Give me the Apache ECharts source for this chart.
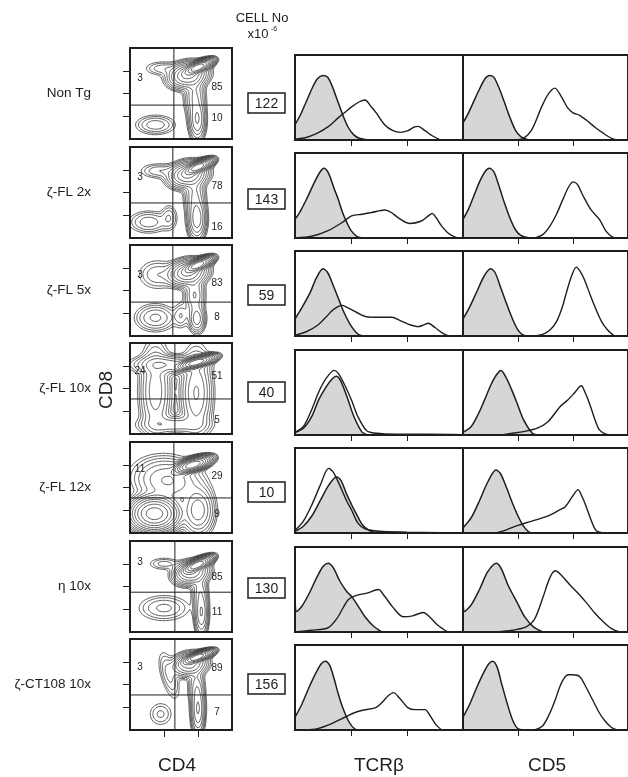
<!DOCTYPE html>
<html>
<head>
<meta charset="utf-8">
<script src="https://cdn.jsdelivr.net/npm/echarts@6/dist/echarts.min.js"></script>
<style>
  html, body {margin: 0; padding: 0; background: #fff;}
  #chart {width: 628px; height: 777px;}
</style>
</head>
<body>
<div id="chart"></div>
<script>
// ---- data ----
const rowNames = ['Non Tg', 'ζ-FL 2x', 'ζ-FL 5x', 'ζ-FL 10x', 'ζ-FL 12x', 'η 10x', 'ζ-CT108 10x'];
const cellNo = [122, 143, 59, 40, 10, 130, 156];
const quadTL = [3, 3, 3, 24, 11, 3, 3];      // CD8 single positive %
const quadTR = [85, 78, 83, 51, 29, 85, 89]; // double positive %
const quadBR = [10, 16, 8, 5, 9, 11, 7];     // CD4 single positive %
const gateCD4 = [1.29, 1.26, 1.26, 1.32, 1.29, 1.32, 1.32];
const gateCD8 = [1.49, 1.54, 1.49, 1.54, 1.54, 1.75, 1.54];

// contour populations: [cd4 centre, cd8 centre, spread x, spread y, angle, weight]
const popsNonTg = [[2.0, 3.15, 0.21, 0.09, 38, 1.0], [1.7, 2.8, 0.28, 0.24, 45, 0.15], [1.98, 0.85, 0.12, 0.45, 0, 0.05], [1.9, 1.9, 0.15, 0.5, 0, 0.03], [0.75, 0.62, 0.3, 0.22, 0, 0.015], [0.95, 3.1, 0.28, 0.17, 0, 0.009]];
const popsFL2 = [[2.0, 3.12, 0.21, 0.09, 38, 1.0], [1.7, 2.78, 0.28, 0.24, 45, 0.15], [1.97, 0.85, 0.13, 0.45, 0, 0.07], [1.9, 1.9, 0.15, 0.5, 0, 0.03], [0.55, 0.7, 0.3, 0.25, 0, 0.015], [1.15, 0.9, 0.13, 0.3, 0, 0.01], [0.85, 2.95, 0.3, 0.18, 0, 0.01]];
const popsFL5 = [[2.0, 3.12, 0.21, 0.09, 38, 1.0], [1.7, 2.78, 0.28, 0.24, 45, 0.15], [1.97, 0.75, 0.12, 0.3, 0, 0.04], [1.9, 1.8, 0.15, 0.45, 0, 0.03], [0.75, 0.8, 0.3, 0.3, 0, 0.02], [1.5, 0.9, 0.12, 0.3, 0, 0.01], [0.8, 2.7, 0.3, 0.35, 0, 0.01]];
const popsFL10 = [[1.95, 3.15, 0.24, 0.09, 25, 1.0], [0.75, 1.9, 0.22, 1.0, 0, 0.04], [1.95, 1.8, 0.22, 0.9, 0, 0.05], [1.3, 0.4, 0.5, 0.2, 0, 0.025], [1.1, 3.05, 0.5, 0.2, 0, 0.04]];
const popsFL12 = [[1.85, 3.0, 0.24, 0.11, 30, 0.6], [0.72, 0.85, 0.3, 0.32, 0, 0.5], [2.0, 1.0, 0.22, 0.5, 0, 0.04], [1.1, 2.3, 0.45, 0.5, 40, 0.03]];
const popsEta10 = [[1.98, 2.95, 0.22, 0.09, 40, 1.0], [1.8, 2.6, 0.26, 0.22, 45, 0.12], [2.1, 0.85, 0.1, 0.5, 0, 0.05], [2.05, 1.8, 0.12, 0.4, 0, 0.02], [1.0, 1.05, 0.4, 0.3, 0, 0.012], [1.0, 3.0, 0.25, 0.15, 0, 0.008]];
const popsCT108 = [[1.98, 3.2, 0.21, 0.08, 32, 1.0], [1.75, 2.88, 0.26, 0.22, 45, 0.1], [2.0, 0.9, 0.1, 0.55, 0, 0.05], [1.95, 1.9, 0.12, 0.45, 0, 0.02], [1.15, 2.4, 0.13, 0.55, 10, 0.012], [0.9, 0.7, 0.2, 0.3, 0, 0.007]];

// histograms: [log fluorescence, relative count]; ctrl = shaded
const tcrCtrl1 = [[0,18],[0.1,30],[0.2,45],[0.3,60],[0.4,72],[0.5,76],[0.58,74],[0.66,64],[0.75,48],[0.85,30],[0.95,15],[1.05,6],[1.15,2],[1.3,0]];
const tcr1 = [[0,1],[0.2,3],[0.4,8],[0.6,16],[0.77,26],[0.9,33],[1.01,39],[1.15,45],[1.25,47],[1.35,40],[1.45,32],[1.6,18],[1.75,11],[1.88,9],[2.02,11],[2.12,15],[2.2,16],[2.32,11],[2.45,5],[2.6,0]];
const cd5Ctrl1 = [[0,20],[0.1,32],[0.2,46],[0.3,60],[0.4,72],[0.48,76],[0.56,74],[0.65,62],[0.75,45],[0.85,27],[0.95,12],[1.05,4],[1.2,0]];
const cd5_1 = [[0.95,0],[1.1,2],[1.25,12],[1.43,39],[1.55,54],[1.67,61],[1.78,52],[1.9,38],[2.0,32],[2.12,29],[2.25,23],[2.4,15],[2.55,8],[2.7,2],[2.8,0]];

const tcrCtrl2 = [[0,22],[0.1,32],[0.23,49],[0.35,66],[0.45,78],[0.52,82],[0.6,76],[0.7,58],[0.77,46],[0.85,30],[0.92,19],[1.0,9],[1.1,2],[1.2,0]];
const tcr2 = [[0,0],[0.3,2],[0.6,9],[0.86,19],[1.01,26],[1.2,28],[1.37,30],[1.6,33],[1.72,30],[1.84,24],[2.05,17],[2.26,20],[2.38,26],[2.45,29],[2.52,24],[2.62,14],[2.75,5],[2.9,0]];
const cd5Ctrl2 = [[0,22],[0.1,34],[0.2,50],[0.3,66],[0.4,78],[0.48,82],[0.56,78],[0.65,62],[0.75,42],[0.85,24],[0.95,10],[1.05,3],[1.2,0]];
const cd5_2 = [[1.3,0],[1.45,4],[1.58,14],[1.7,28],[1.82,46],[1.92,60],[2.0,66],[2.08,63],[2.18,50],[2.33,33],[2.48,22],[2.6,8],[2.72,1],[2.8,0]];

const tcrCtrl3 = [[0,20],[0.12,33],[0.27,51],[0.38,68],[0.5,79],[0.58,75],[0.68,60],[0.77,45],[0.88,27],[1.01,11],[1.13,2],[1.25,0]];
const tcr3 = [[0,1],[0.2,5],[0.41,13],[0.55,22],[0.65,29],[0.75,34],[0.84,36],[0.92,34],[1.01,31],[1.25,23],[1.4,22],[1.55,22],[1.73,22],[1.88,18],[2.02,14],[2.2,11],[2.3,13],[2.38,15],[2.5,10],[2.62,4],[2.74,0]];
const cd5Ctrl3 = [[0,20],[0.12,34],[0.25,52],[0.38,70],[0.5,79],[0.58,75],[0.68,58],[0.78,40],[0.9,20],[1.0,7],[1.1,1],[1.2,0]];
const cd5_3 = [[1.3,0],[1.45,2],[1.58,7],[1.7,17],[1.8,33],[1.88,51],[1.96,68],[2.06,81],[2.13,76],[2.21,66],[2.32,47],[2.42,31],[2.52,17],[2.63,7],[2.75,0]];

const tcrCtrl4 = [[0,3],[0.15,8],[0.3,22],[0.42,41],[0.55,56],[0.65,65],[0.74,69],[0.82,63],[0.95,41],[1.05,22],[1.19,4],[1.3,0]];
const tcr4 = [[0,3],[0.15,10],[0.3,30],[0.42,50],[0.55,66],[0.7,76],[0.78,72],[0.9,57],[1.01,41],[1.12,22],[1.28,5],[1.45,2],[1.8,1],[2.4,1],[3,0.5]];
const cd5Ctrl4 = [[0,3],[0.15,10],[0.28,25],[0.39,41],[0.5,58],[0.6,70],[0.69,76],[0.78,68],[0.88,54],[0.98,38],[1.1,18],[1.26,2],[1.35,0]];
const cd5_4 = [[0.7,0],[0.9,2],[1.1,4],[1.35,8],[1.55,16],[1.76,33],[1.9,41],[2.02,49],[2.15,58],[2.22,50],[2.3,37],[2.4,18],[2.48,6],[2.6,1],[2.7,0]];

const tcrCtrl5 = [[0,2],[0.15,8],[0.3,20],[0.45,38],[0.6,56],[0.74,66],[0.82,62],[0.92,46],[1.02,32],[1.1,22],[1.2,10],[1.32,3],[1.45,0]];
const tcr5 = [[0,3],[0.15,14],[0.3,33],[0.45,56],[0.6,76],[0.68,72],[0.8,56],[0.92,38],[1.01,27],[1.12,12],[1.25,5],[1.5,2],[2.0,1],[2.6,0.5],[3,0]];
const cd5Ctrl5 = [[0,6],[0.15,18],[0.3,38],[0.45,60],[0.6,74],[0.68,70],[0.8,52],[0.9,35],[1.0,20],[1.1,8],[1.2,1],[1.3,0]];
const cd5_5 = [[0.6,0],[0.8,4],[1.0,9],[1.2,13],[1.4,17],[1.58,21],[1.75,27],[1.86,31],[2.0,44],[2.09,51],[2.17,42],[2.24,31],[2.33,15],[2.42,3],[2.55,0]];

const tcrCtrl6 = [[0,60],[0.03,24],[0.12,30],[0.25,45],[0.38,63],[0.5,77],[0.59,81],[0.68,76],[0.8,60],[0.92,48],[1.02,41],[1.15,28],[1.25,18],[1.4,7],[1.55,0]];
const tcr6 = [[0,0],[0.3,2],[0.59,5],[0.75,16],[0.95,38],[1.1,43],[1.3,46],[1.49,50],[1.6,42],[1.75,29],[1.93,18],[2.1,19],[2.29,23],[2.4,18],[2.55,8],[2.73,0]];
const cd5Ctrl6 = [[0,60],[0.03,24],[0.15,32],[0.3,50],[0.45,71],[0.61,81],[0.7,74],[0.82,55],[0.99,34],[1.12,18],[1.28,6],[1.45,0]];
const cd5_6 = [[0.6,0],[0.9,2],[1.15,6],[1.3,15],[1.45,40],[1.58,64],[1.68,72],[1.8,66],[1.95,55],[2.1,45],[2.25,34],[2.4,22],[2.55,12],[2.7,4],[2.85,0]];

const tcrCtrl7 = [[0,15],[0.12,30],[0.25,50],[0.38,68],[0.47,78],[0.54,81],[0.62,76],[0.7,60],[0.77,43],[0.86,25],[0.96,10],[1.07,1],[1.15,0]];
const tcr7 = [[0,0],[0.36,1],[0.6,6],[0.89,15],[1.05,20],[1.19,23],[1.43,26],[1.55,32],[1.66,40],[1.76,44],[1.86,38],[2.02,26],[2.15,24],[2.32,24],[2.42,16],[2.52,6],[2.62,0]];
const cd5Ctrl7 = [[0,15],[0.12,30],[0.25,50],[0.38,68],[0.47,78],[0.54,81],[0.62,74],[0.7,55],[0.8,32],[0.9,12],[0.99,2],[1.1,0]];
const cd5_7 = [[1.3,0],[1.45,5],[1.58,20],[1.68,36],[1.76,51],[1.84,61],[1.91,65],[2.0,65],[2.12,63],[2.24,50],[2.36,35],[2.48,20],[2.59,10],[2.7,3],[2.8,0]];

const rowPops = [popsNonTg, popsFL2, popsFL5, popsFL10, popsFL12, popsEta10, popsCT108];
const tcrCtrl = [tcrCtrl1, tcrCtrl2, tcrCtrl3, tcrCtrl4, tcrCtrl5, tcrCtrl6, tcrCtrl7];
const tcr = [tcr1, tcr2, tcr3, tcr4, tcr5, tcr6, tcr7];
const cd5Ctrl = [cd5Ctrl1, cd5Ctrl2, cd5Ctrl3, cd5Ctrl4, cd5Ctrl5, cd5Ctrl6, cd5Ctrl7];
const cd5 = [cd5_1, cd5_2, cd5_3, cd5_4, cd5_5, cd5_6, cd5_7];

// ---- layout ----
const contourTop = [48, 147, 245, 343, 442, 541, 639];
const contourL = 130, contourW = 102, contourH = 91;
const histBottom = [140, 238, 336, 435, 533, 632, 730];
const histH = 85, tcrL = 295, cd5L = 463, tcrW = 168, cd5W = 171;
const cellBoxY = [103, 199, 295, 392, 492, 588, 684];
const tlY = [30, 30, 30, 28, 27, 21, 28];
const trY = [39, 39, 38, 33, 34, 36, 29];
const brY = [70, 80, 72, 77, 72, 71, 73];
const FONT = '"Liberation Sans", Arial, Helvetica, sans-serif';
const INK = '#1e1e1e';

function density(pops, x, y) {
  let s = 0;
  pops.forEach(p => {
    const a = p[4] * Math.PI / 180;
    const dx = x - p[0], dy = y - p[1];
    const u = dx * Math.cos(a) + dy * Math.sin(a);
    const v = -dx * Math.sin(a) + dy * Math.cos(a);
    s += p[5] * Math.exp(-0.5 * (u * u / (p[2] * p[2]) + v * v / (p[3] * p[3])));
  });
  return s;
}

// marching squares over the density -> contour segments in data units
function contourSegments(pops) {
  const nx = 75, ny = 92, xMax = 3, yMax = 4;
  const f = [];
  let max = 0;
  for (let j = 0; j <= ny; j++) {
    const row = [];
    for (let i = 0; i <= nx; i++) {
      const v = density(pops, i * xMax / nx, j * yMax / ny);
      row.push(v);
      if (v > max) max = v;
    }
    f.push(row);
  }
  const segs = [];
  for (let k = 1; k <= 12; k++) {
    const L = max * Math.pow(0.6, k);
    for (let j = 0; j < ny; j++) {
      for (let i = 0; i < nx; i++) {
        const a = f[j][i], b = f[j][i + 1], c = f[j + 1][i + 1], d = f[j + 1][i];
        const x0 = i * xMax / nx, x1 = (i + 1) * xMax / nx;
        const y0 = j * yMax / ny, y1 = (j + 1) * yMax / ny;
        const p = [];
        if ((a - L) * (b - L) < 0) p.push([x0 + (L - a) / (b - a) * (x1 - x0), y0]);
        if ((b - L) * (c - L) < 0) p.push([x1, y0 + (L - b) / (c - b) * (y1 - y0)]);
        if ((c - L) * (d - L) < 0) p.push([x1 + (L - c) / (d - c) * (x0 - x1), y1]);
        if ((d - L) * (a - L) < 0) p.push([x0, y1 + (L - d) / (a - d) * (y0 - y1)]);
        if (p.length >= 2) segs.push({coords: [p[0], p[1]]});
        if (p.length === 4) segs.push({coords: [p[2], p[3]]});
      }
    }
  }
  return segs;
}

const grids = [], xAxes = [], yAxes = [], series = [], graphics = [];
const gridBase = {show: true, borderColor: INK, borderWidth: 2, backgroundColor: 'transparent', z: 5};
const hidden = {show: false};

for (let r = 0; r < 7; r++) {
  const gi = grids.length;
  // contour plot
  grids.push(Object.assign({left: contourL, top: contourTop[r], width: contourW, height: contourH}, gridBase));
  xAxes.push({
    gridIndex: gi, type: 'value', min: 0, max: 3,
    axisLine: hidden, splitLine: hidden, axisLabel: hidden,
    axisTick: {show: r === 6, customValues: [1, 2], length: 7, lineStyle: {color: INK, width: 1}}
  });
  yAxes.push({
    gridIndex: gi, type: 'value', min: 0, max: 4,
    axisLine: hidden, splitLine: hidden, axisLabel: hidden,
    axisTick: {show: true, customValues: [1, 2, 3], length: 7, lineStyle: {color: INK, width: 1}}
  });
  series.push({
    type: 'lines', coordinateSystem: 'cartesian2d', xAxisIndex: gi, yAxisIndex: gi,
    data: contourSegments(rowPops[r]), large: true, largeThreshold: 500, silent: true,
    lineStyle: {color: '#333', width: 0.8, opacity: 1}
  });
  series.push({
    type: 'line', xAxisIndex: gi, yAxisIndex: gi, silent: true, symbol: 'none',
    data: [[gateCD4[r], 0], [gateCD4[r], 4]], lineStyle: {color: INK, width: 1}
  });
  series.push({
    type: 'line', xAxisIndex: gi, yAxisIndex: gi, silent: true, symbol: 'none',
    data: [[0, gateCD8[r]], [3, gateCD8[r]]], lineStyle: {color: INK, width: 1}
  });

  // histograms
  [[tcrL, tcrW, tcrCtrl[r], tcr[r]], [cd5L, cd5W, cd5Ctrl[r], cd5[r]]].forEach(([left, w, ctrl, stain]) => {
    const hi = grids.length;
    grids.push(Object.assign({left: left, top: histBottom[r] - histH, width: w, height: histH}, gridBase));
    xAxes.push({
      gridIndex: hi, type: 'value', min: 0, max: 3,
      axisLine: hidden, splitLine: hidden, axisLabel: hidden,
      axisTick: {show: true, customValues: [1, 2], length: 6, lineStyle: {color: INK, width: 1}}
    });
    yAxes.push({
      gridIndex: hi, type: 'value', min: 0, max: 100,
      axisLine: hidden, splitLine: hidden, axisLabel: hidden, axisTick: hidden
    });
    series.push({
      type: 'line', xAxisIndex: hi, yAxisIndex: hi, silent: true, symbol: 'none',
      smooth: 0.3, data: ctrl, z: 2,
      lineStyle: {color: INK, width: 1.5}, areaStyle: {color: '#d6d6d6', opacity: 1}
    });
    series.push({
      type: 'line', xAxisIndex: hi, yAxisIndex: hi, silent: true, symbol: 'none',
      smooth: 0.3, data: stain, z: 3,
      lineStyle: {color: INK, width: 1.4}
    });
  });

  // texts
  const top = contourTop[r];
  graphics.push({type: 'text', x: 91, y: top + contourH / 2,
    style: {text: rowNames[r], font: '13.5px ' + FONT, fill: INK, textAlign: 'right', textVerticalAlign: 'middle', align: 'right', verticalAlign: 'middle'}});
  graphics.push({type: 'text', x: 140, y: top + tlY[r],
    style: {text: String(quadTL[r]), font: '10px ' + FONT, fill: INK, textAlign: 'center', textVerticalAlign: 'middle', align: 'center', verticalAlign: 'middle'}, z: 20});
  graphics.push({type: 'text', x: 217, y: top + trY[r],
    style: {text: String(quadTR[r]), font: '10px ' + FONT, fill: INK, textAlign: 'center', textVerticalAlign: 'middle', align: 'center', verticalAlign: 'middle'}, z: 20});
  graphics.push({type: 'text', x: 217, y: top + brY[r],
    style: {text: String(quadBR[r]), font: '10px ' + FONT, fill: INK, textAlign: 'center', textVerticalAlign: 'middle', align: 'center', verticalAlign: 'middle'}, z: 20});
  graphics.push({type: 'rect', shape: {x: 248, y: cellBoxY[r] - 10, width: 37, height: 20},
    style: {fill: '#fff', stroke: INK, lineWidth: 1.5}});
  graphics.push({type: 'text', x: 266.5, y: cellBoxY[r] + 1,
    style: {text: String(cellNo[r]), font: '14px ' + FONT, fill: INK, textAlign: 'center', textVerticalAlign: 'middle', align: 'center', verticalAlign: 'middle'}});
}

function label(text, x, y, size, extra) {
  return Object.assign({type: 'text', x: x, y: y,
    style: {text: text, font: size + 'px ' + FONT, fill: INK, textAlign: 'center', textVerticalAlign: 'middle', align: 'center', verticalAlign: 'middle'}}, extra || {});
}
graphics.push(label('CELL No', 262, 18, 13));
graphics.push(label('x10', 258, 34, 13));
graphics.push(label('-6', 274, 29, 7));
graphics.push(label('CD4', 177, 766, 19));
graphics.push(label('TCRβ', 379, 766, 19));
graphics.push(label('CD5', 547, 766, 19));
graphics.push(label('CD8', 107, 390, 19, {rotation: Math.PI / 2}));

const chart = echarts.init(document.getElementById('chart'), null, {renderer: 'canvas'});
chart.setOption({
  animation: false,
  backgroundColor: '#fff',
  grid: grids,
  xAxis: xAxes,
  yAxis: yAxes,
  series: series,
  graphic: graphics
});
</script>
</body>
</html>
